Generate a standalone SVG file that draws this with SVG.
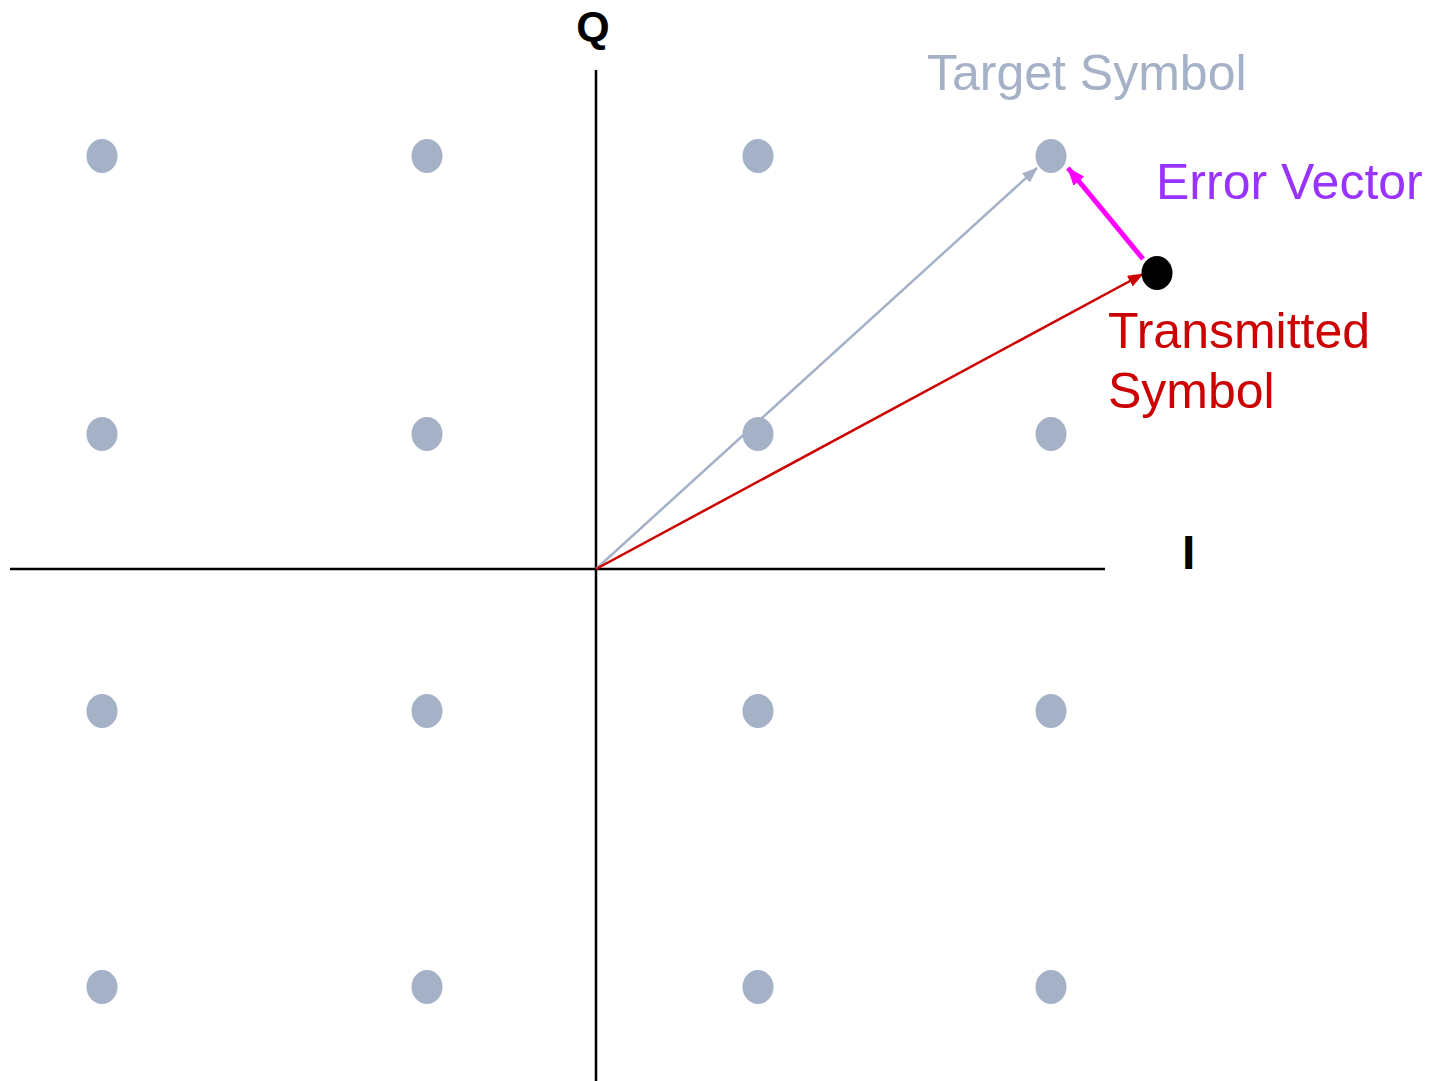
<svg xmlns="http://www.w3.org/2000/svg" width="1437" height="1081" viewBox="0 0 1437 1081">
<style>
.dot{fill:#A5B1C7}
.axis{stroke:#000;stroke-width:2.5;fill:none}
.lbl{font-family:"Liberation Sans",Arial,sans-serif;font-size:50px}
.ax{font-family:"Liberation Sans",Arial,sans-serif;font-weight:bold}
</style>
<defs>
<marker id="ahGray" markerUnits="userSpaceOnUse" markerWidth="16" markerHeight="12" refX="15" refY="6" orient="auto"><path d="M0,0 L16,6 L0,12 Z" fill="#A5B1C7"/></marker>
<marker id="ahRed" markerUnits="userSpaceOnUse" markerWidth="16" markerHeight="12" refX="15" refY="6" orient="auto"><path d="M0,0 L16,6 L0,12 Z" fill="#CC0000"/></marker>
<marker id="ahMag" markerUnits="userSpaceOnUse" markerWidth="18" markerHeight="14" refX="17" refY="7" orient="auto"><path d="M0,0 L18,7 L0,14 Z" fill="#FF00FF"/></marker>
</defs>
<rect width="1437" height="1081" fill="#fff"/>
<g id="axes">
<line class="axis" x1="10" y1="569" x2="1105" y2="569"/>
<line class="axis" x1="596" y1="70" x2="596" y2="1081"/>
<text class="ax" x="593" y="41" font-size="43" text-anchor="middle">Q</text>
<text class="ax" x="1182" y="569" font-size="48">I</text>
</g>
<g id="constellation">
<ellipse class="dot" cx="102" cy="156" rx="15.5" ry="17"/>
<ellipse class="dot" cx="427" cy="156" rx="15.5" ry="17"/>
<ellipse class="dot" cx="758" cy="156" rx="15.5" ry="17"/>
<ellipse class="dot" cx="1051" cy="156" rx="15.5" ry="17"/>
<ellipse class="dot" cx="102" cy="434" rx="15.5" ry="17"/>
<ellipse class="dot" cx="427" cy="434" rx="15.5" ry="17"/>
<ellipse class="dot" cx="758" cy="434" rx="15.5" ry="17"/>
<ellipse class="dot" cx="1051" cy="434" rx="15.5" ry="17"/>
<ellipse class="dot" cx="102" cy="711" rx="15.5" ry="17"/>
<ellipse class="dot" cx="427" cy="711" rx="15.5" ry="17"/>
<ellipse class="dot" cx="758" cy="711" rx="15.5" ry="17"/>
<ellipse class="dot" cx="1051" cy="711" rx="15.5" ry="17"/>
<ellipse class="dot" cx="102" cy="987" rx="15.5" ry="17"/>
<ellipse class="dot" cx="427" cy="987" rx="15.5" ry="17"/>
<ellipse class="dot" cx="758" cy="987" rx="15.5" ry="17"/>
<ellipse class="dot" cx="1051" cy="987" rx="15.5" ry="17"/>
</g>
<g id="connectors">
<line x1="596" y1="569" x2="1037" y2="168" stroke="#A5B1C7" stroke-width="2.5" marker-end="url(#ahGray)"/>
<line x1="596" y1="569" x2="1143" y2="274" stroke="#CC0000" stroke-width="2.5" marker-end="url(#ahRed)"/>
<line x1="1143" y1="259" x2="1068" y2="168" stroke="#FF00FF" stroke-width="5" marker-end="url(#ahMag)"/>
</g>
<g id="transmitted">
<ellipse cx="1157" cy="273" rx="15.5" ry="17" fill="#000"/>
</g>
<g id="labels">
<text class="lbl" x="927" y="90" font-size="51" fill="#A5B1C7">Target Symbol</text>
<text class="lbl" x="1156" y="199" fill="#9933FF">Error Vector</text>
<text class="lbl" x="1108" y="348" fill="#CC0000">Transmitted</text>
<text class="lbl" x="1108" y="408" fill="#CC0000">Symbol</text>
</g>
</svg>
